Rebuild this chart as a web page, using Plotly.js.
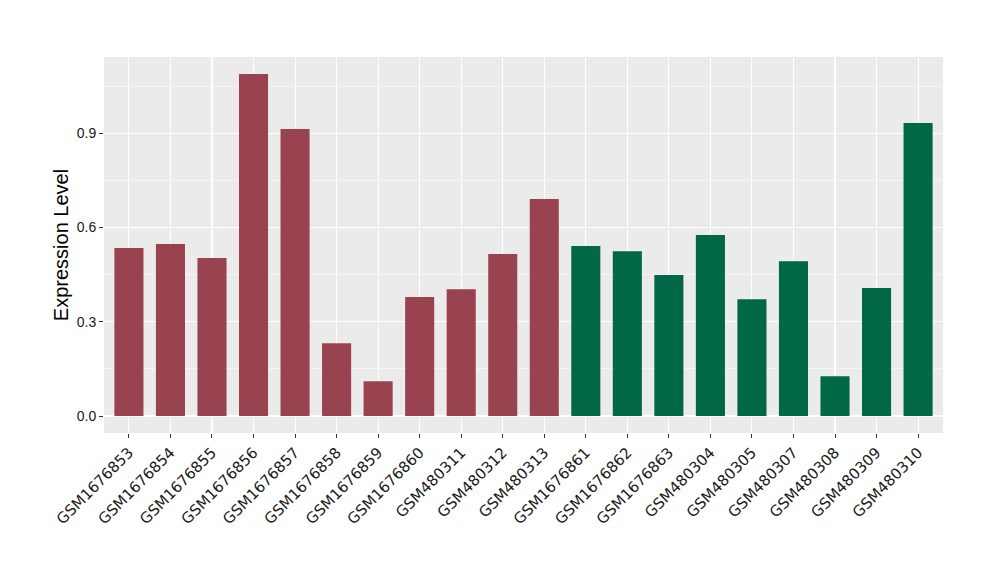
<!DOCTYPE html>
<html>
<head>
<meta charset="utf-8">
<script src="https://cdn.plot.ly/plotly-3.0.1.min.js"></script>
<style>html,body{margin:0;padding:0;background:#fff;}#chart{width:1000px;height:580px;}</style>
</head>
<body>
<div id="chart"></div>
<script>
const samples = ["GSM1676853","GSM1676854","GSM1676855","GSM1676856","GSM1676857","GSM1676858","GSM1676859","GSM1676860","GSM480311","GSM480312","GSM480313","GSM1676861","GSM1676862","GSM1676863","GSM480304","GSM480305","GSM480307","GSM480308","GSM480309","GSM480310"];
const values = [0.535,0.548,0.503,1.089,0.914,0.232,0.111,0.379,0.404,0.516,0.691,0.541,0.525,0.449,0.576,0.372,0.493,0.127,0.408,0.933];
const groups = ["A","A","A","A","A","A","A","A","A","A","A","B","B","B","B","B","B","B","B","B"];
const groupColors = {A:"#9A4350", B:"#006846"};

const trace = {
  type: "bar",
  x: samples,
  y: values,
  marker: {color: groups.map(g => groupColors[g])},
  hoverinfo: "x+y"
};

const layout = {
  width: 1000, height: 580,
  margin: {l: 104, r: 57, t: 57, b: 147},
  paper_bgcolor: "#ffffff",
  plot_bgcolor: "#EBEBEB",
  bargap: 0.3,
  showlegend: false,
  font: {family: "Liberation Sans, Arial, sans-serif", color: "#1a1a1a"},
  xaxis: {
    type: "category",
    range: [-0.6, 19.6],
    tickangle: -45,
    tickfont: {family: "DejaVu Sans, sans-serif", size: 15, color: "#1a1a1a"},
    showgrid: true, gridcolor: "#ffffff", gridwidth: 1.1,
    ticks: "outside", ticklen: 4, tickcolor: "#333333", tickwidth: 1,
    showline: false, zeroline: false
  },
  yaxis: {
    range: [-0.054, 1.143],
    tickvals: [0, 0.3, 0.6, 0.9],
    ticktext: ["0.0","0.3","0.6","0.9"],
    tickfont: {size: 14, color: "#1a1a1a"},
    showgrid: true, gridcolor: "#ffffff", gridwidth: 1.1,
    minor: {tickvals: [0.15, 0.45, 0.75, 1.05], showgrid: true, gridcolor: "#ffffff", gridwidth: 0.5},
    ticks: "outside", ticklen: 4, tickcolor: "#333333", tickwidth: 1,
    zeroline: false, showline: false,
    title: {text: "Expression Level", font: {size: 20, color: "#000"}, standoff: 2}
  }
};

Plotly.newPlot("chart", [trace], layout, {displayModeBar: false, staticPlot: true});
</script>
</body>
</html>
